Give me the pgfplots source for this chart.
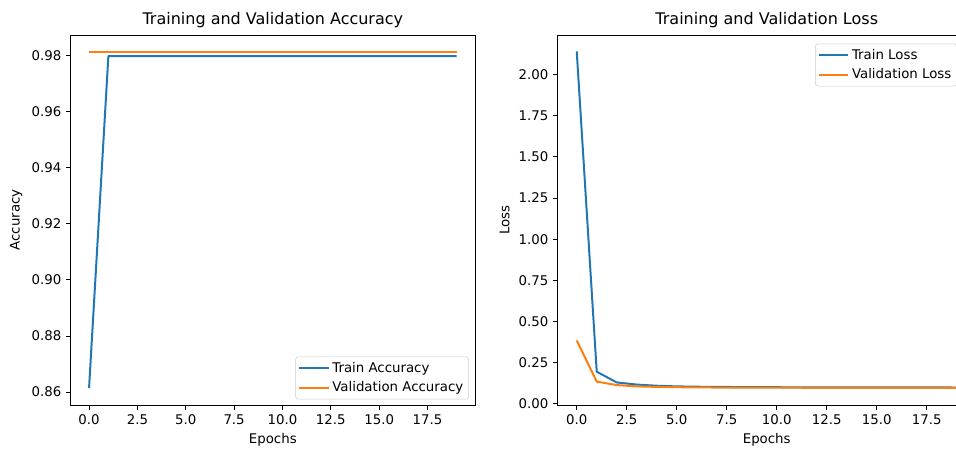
\documentclass[border=0pt]{standalone}
\usepackage{fontspec}
\setmainfont{DejaVu Sans}
\usepackage{pgfplots}
\pgfplotsset{compat=1.18}
\definecolor{tabblue}{HTML}{1F77B4}
\definecolor{taborange}{HTML}{FF7F0E}
\pgfplotsset{
 mpl/.style={
  scale only axis, height=277.5pt,
  xmin=-0.95, xmax=19.95,
  xtick={0,2.5,5,7.5,10,12.5,15,17.5},
  tick align=outside, tick pos=left,
  major tick length=3.5pt,
  every tick/.style={black, line width=0.6pt},
  axis line style={line width=0.6pt},
  /pgf/number format/assume math mode=true,
  tick label style={font=\fontsize{10}{12}\selectfont},
  xticklabel style={/pgf/number format/.cd, fixed, fixed zerofill, precision=1},
  yticklabel style={/pgf/number format/.cd, fixed, fixed zerofill, precision=2},
  label style={font=\fontsize{10}{12}\selectfont},
  title style={font=\fontsize{12}{14}\selectfont, yshift=-4.5pt},
  xlabel={Epochs},
  legend style={draw=black!20, rounded corners=2pt, fill=white, fill opacity=0.8, text opacity=1, font=\fontsize{10}{12}\selectfont, inner sep=2pt, row sep=1.5pt},
  legend cell align=left,
  legend image code/.code={\draw[#1] (0pt,0pt) -- (22pt,0pt);},
  every axis plot/.append style={line width=1.5pt, line join=round},
 }
}
\pgfplotstableread{
epoch acc valacc loss valloss
0 0.8614 0.9812 2.140 0.385
1 0.9797 0.9812 0.195 0.135
2 0.9797 0.9812 0.130 0.114
3 0.9797 0.9812 0.117 0.106
4 0.9797 0.9812 0.110 0.103
5 0.9797 0.9812 0.106 0.101
6 0.9797 0.9812 0.104 0.100
7 0.9797 0.9812 0.103 0.099
8 0.9797 0.9812 0.102 0.099
9 0.9797 0.9812 0.101 0.098
10 0.9797 0.9812 0.101 0.098
11 0.9797 0.9812 0.100 0.098
12 0.9797 0.9812 0.100 0.097
13 0.9797 0.9812 0.100 0.097
14 0.9797 0.9812 0.100 0.097
15 0.9797 0.9812 0.100 0.097
16 0.9797 0.9812 0.100 0.097
17 0.9797 0.9812 0.100 0.097
18 0.9797 0.9812 0.100 0.097
19 0.9797 0.9812 0.099 0.097
}\hist
\begin{document}
\begin{tikzpicture}
\useasboundingbox (0,0) rectangle (717pt,336.75pt);
\begin{axis}[mpl, at={(53pt,33pt)}, anchor=south west, width=303.2pt,
  ymin=0.8554, ymax=0.9872,
  ytick={0.86,0.88,0.90,0.92,0.94,0.96,0.98},
  ylabel={Accuracy},
  title={Training and Validation Accuracy},
  legend style={at={(0.985,0.015)}, anchor=south east}]
\addplot[tabblue] table[x=epoch, y=acc] {\hist};
\addlegendentry{Train Accuracy}
\addplot[taborange] table[x=epoch, y=valacc] {\hist};
\addlegendentry{Validation Accuracy}
\end{axis}
\begin{axis}[mpl, at={(418.3pt,33pt)}, anchor=south west, width=313.5pt,
  ymin=-0.007, ymax=2.24,
  ytick={0,0.25,0.5,0.75,1,1.25,1.5,1.75,2},
  ylabel={Loss},
  title={Training and Validation Loss},
  legend style={at={(0.955,0.977)}, anchor=north east}]
\addplot[tabblue] table[x=epoch, y=loss] {\hist};
\addlegendentry{Train Loss}
\addplot[taborange] table[x=epoch, y=valloss] {\hist};
\addlegendentry{Validation Loss}
\end{axis}
\end{tikzpicture}
\end{document}
